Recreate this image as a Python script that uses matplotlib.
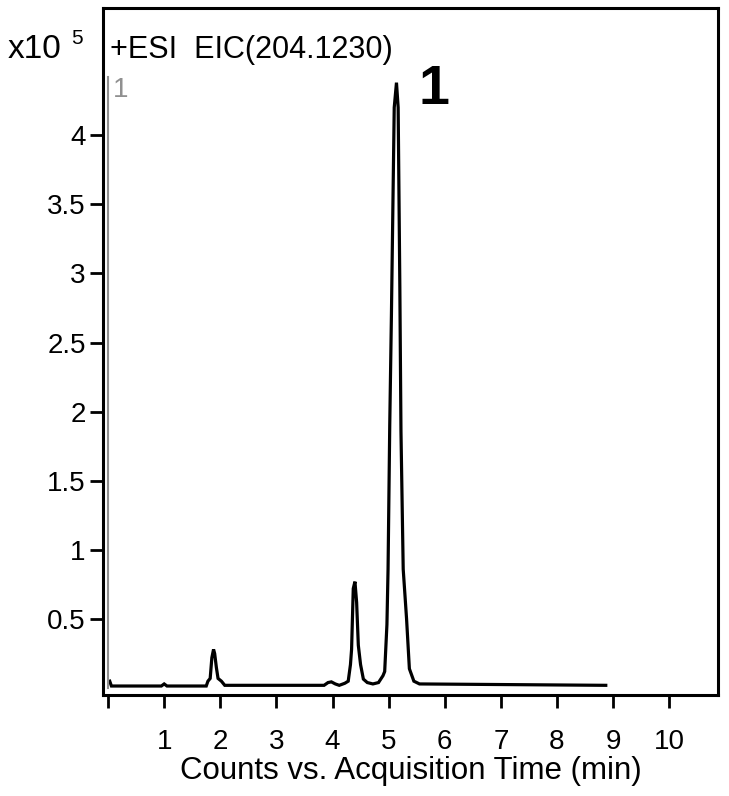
import matplotlib
matplotlib.use("Agg")
import matplotlib.pyplot as plt

plt.rcParams['font.family'] = ['Liberation Sans', 'DejaVu Sans']

# Retention time (min) and counts (x10^5)
time_min = [0.03, 0.06, 0.95, 1.00, 1.05, 1.75, 1.78, 1.82, 1.85, 1.88, 1.90, 1.93,
            1.96, 2.02, 2.08, 3.85, 3.92, 3.98, 4.05, 4.12, 4.22, 4.28, 4.32, 4.34,
            4.37, 4.40, 4.43, 4.46, 4.50, 4.55, 4.62, 4.72, 4.82, 4.90, 4.93, 4.97,
            4.99, 5.02, 5.05, 5.10, 5.14, 5.17, 5.20, 5.22, 5.26, 5.32, 5.37, 5.45,
            5.55, 8.87]
counts_e5 = [0.05, 0.015, 0.015, 0.03, 0.015, 0.015, 0.05, 0.07, 0.22, 0.28, 0.25, 0.15,
             0.07, 0.05, 0.02, 0.02, 0.04, 0.045, 0.03, 0.02, 0.035, 0.05, 0.17, 0.28,
             0.72, 0.77, 0.62, 0.31, 0.17, 0.065, 0.04, 0.03, 0.04, 0.09, 0.12, 0.46,
             0.86, 1.90, 2.70, 4.20, 4.38, 4.20, 2.90, 1.86, 0.86, 0.50, 0.14, 0.05,
             0.03, 0.02]

x_ticks = [0, 1, 2, 3, 4, 5, 6, 7, 8, 9, 10]
x_tick_labels = ['', '1', '2', '3', '4', '5', '6', '7', '8', '9', '10']
y_ticks = [0.5, 1, 1.5, 2, 2.5, 3, 3.5, 4]
y_tick_labels = ['0.5', '1', '1.5', '2', '2.5', '3', '3.5', '4']

peak_label = '1'
peak_label_time = 5.80
peak_label_height = 4.33

fig = plt.figure(figsize=(7.29, 7.96), dpi=100)
ax = fig.add_axes([103/729, 1 - 695/796, (718 - 103)/729, (695 - 8)/796])

ax.plot(time_min, counts_e5, color='black', lw=2.3, solid_joinstyle='miter')
# gray marker line at t=0
ax.plot([0, 0], [0, 4.42], color='#909090', lw=1.5)
ax.text(0.09, 4.42, '1', color='#909090', fontsize=20, va='top', ha='left')

ax.text(peak_label_time, peak_label_height, peak_label, fontsize=40, fontweight='bold',
        ha='center', va='center')

ax.set_xlim(-0.09, 10.87)
ax.set_ylim(-0.05, 4.92)
ax.set_xticks(x_ticks)
ax.set_xticklabels(x_tick_labels)
ax.set_yticks(y_ticks)
ax.set_yticklabels(y_tick_labels)
ax.tick_params(axis='both', direction='out', length=9.5, width=2, labelsize=20, pad=3)
ax.tick_params(axis='x', pad=15)
for s in ax.spines.values():
    s.set_linewidth(2.2)

ax.set_xlabel('Counts vs. Acquisition Time (min)', fontsize=22.5, labelpad=1)

ax.text(0.012, 0.939, '+ESI  EIC(204.1230)', transform=ax.transAxes, fontsize=22,
        ha='left', va='center')
fig.text(8/729, 1 - 49/796, 'x10', fontsize=24, ha='left', va='center')
fig.text(71/729, 1 - 38/796, '5', fontsize=15, ha='left', va='center')

fig.savefig('out.png', dpi=100)
